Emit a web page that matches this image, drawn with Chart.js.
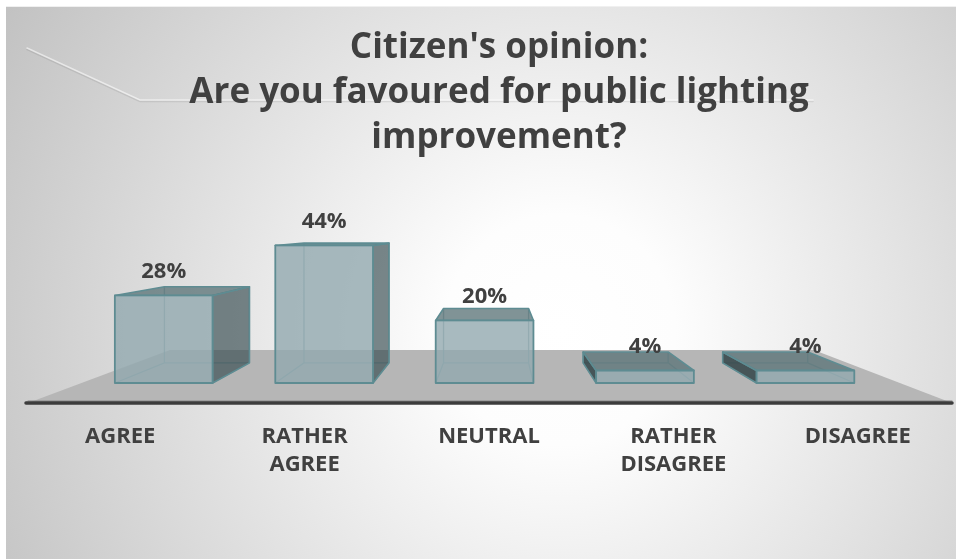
<!DOCTYPE html>
<html>
<head>
<meta charset="utf-8">
<script src="https://cdn.jsdelivr.net/npm/chart.js@4/dist/chart.umd.min.js"></script>
<style>
  html, body { margin: 0; padding: 0; background: #ffffff; }
  #wrap { width: 956px; height: 559px; position: relative; }
</style>
</head>
<body>
<div id="wrap"><canvas id="c"></canvas></div>
<script>
// Survey answers (category axis, multi-line tick labels)
const categories = [
  ['AGREE'],
  ['RATHER', 'AGREE'],
  ['NEUTRAL'],
  ['RATHER', 'DISAGREE'],
  ['DISAGREE']
];
// Share of respondents, in percent
const shares = [28, 44, 20, 4, 4];
// Value axis range
const valueMin = 0;
const valueMax = 71;

const TEXT = '#404040';
const FONT = "'Open Sans', 'DejaVu Sans', sans-serif";

// Perspective setup for the pseudo-3D boxes
const VP = { x: 496, y: 228 };     // vanishing point
const DEPTH = 0.87;                // back face scale relative to front face
const FRONT_SHIFT = { x: 455, k: 0.87 }; // category pixel -> front face centre

function proj(p, s) {
  return [VP.x + s * (p[0] - VP.x), VP.y + s * (p[1] - VP.y)];
}

function poly(ctx, pts) {
  ctx.beginPath();
  ctx.moveTo(pts[0][0], pts[0][1]);
  for (let i = 1; i < pts.length; i++) ctx.lineTo(pts[i][0], pts[i][1]);
  ctx.closePath();
}

const backdrop = {
  id: 'backdrop',
  beforeDraw(chart) {
    const ctx = chart.ctx;
    const W = chart.width, H = chart.height;
    ctx.save();
    ctx.fillStyle = '#ffffff';
    ctx.fillRect(0, 0, W, H);
    const g = ctx.createRadialGradient(560, 330, 0, 560, 330, 640);
    g.addColorStop(0, '#ffffff');
    g.addColorStop(0.18, '#fdfdfd');
    g.addColorStop(1, '#c2c2c2');
    ctx.fillStyle = g;
    ctx.fillRect(6, 7, W - 6, H - 7);
    ctx.fillStyle = 'rgba(0,0,0,0.06)';
    ctx.fillRect(6, 6, W - 6, 1);
    // faint decorative swoosh behind the title
    ctx.lineCap = 'round';
    ctx.lineJoin = 'round';
    ctx.beginPath();
    ctx.moveTo(27, 49.5); ctx.lineTo(140, 101.5); ctx.lineTo(813, 101.5);
    ctx.strokeStyle = 'rgba(0,0,0,0.08)';
    ctx.lineWidth = 1.5;
    ctx.stroke();
    ctx.beginPath();
    ctx.moveTo(27, 48); ctx.lineTo(140, 100); ctx.lineTo(813, 100);
    ctx.strokeStyle = 'rgba(255,255,255,0.55)';
    ctx.lineWidth = 1.5;
    ctx.stroke();
    ctx.restore();
  }
};

const titleNudge = {
  id: 'titleNudge',
  afterLayout(chart) {
    if (chart.titleBlock) chart.titleBlock.left += 20;
  }
};

const floor = {
  id: 'floor',
  beforeDatasetsDraw(chart) {
    const ctx = chart.ctx;
    const a = chart.chartArea;
    // floor front edge sits in front of the boxes
    const frontY = VP.y + (a.bottom - VP.y) / 0.886;
    const fl = [a.left, frontY], fr = [a.right + 2, frontY];
    const s = 0.697;
    const bl = proj(fl, s), br = proj(fr, s);
    ctx.save();
    ctx.fillStyle = '#b6b6b6';
    poly(ctx, [fl, fr, br, bl]);
    ctx.fill();
    ctx.lineCap = 'round';
    ctx.beginPath();
    ctx.moveTo(fl[0], frontY - 2); ctx.lineTo(fr[0], frontY - 2);
    ctx.strokeStyle = '#8c8c8c';
    ctx.lineWidth = 1;
    ctx.stroke();
    ctx.beginPath();
    ctx.moveTo(fl[0] - 2, frontY); ctx.lineTo(fr[0], frontY);
    ctx.strokeStyle = '#3c3c3c';
    ctx.lineWidth = 3.5;
    ctx.stroke();
    ctx.restore();
  }
};

const boxes = {
  id: 'boxes',
  afterDatasetsDraw(chart) {
    const ctx = chart.ctx;
    const meta = chart.getDatasetMeta(0);
    const data = chart.data.datasets[0].data;
    ctx.save();
    meta.data.forEach((el, i) => {
      const cx = FRONT_SHIFT.x + FRONT_SHIFT.k * (el.x - FRONT_SHIFT.x);
      const hw = el.width / 2;
      const l = cx - hw, r = cx + hw, t = el.y, b = el.base;
      const FTL = [l, t], FTR = [r, t], FBL = [l, b], FBR = [r, b];
      const BTL = proj(FTL, DEPTH), BTR = proj(FTR, DEPTH);
      const BBL = proj(FBL, DEPTH), BBR = proj(FBR, DEPTH);

      // edges hidden behind the translucent front
      ctx.lineWidth = 1.3;
      ctx.strokeStyle = 'rgba(110,150,156,0.7)';
      ctx.beginPath();
      ctx.moveTo(BBL[0], BBL[1]); ctx.lineTo(BBR[0], BBR[1]);
      ctx.moveTo(FBL[0], FBL[1]); ctx.lineTo(BBL[0], BBL[1]);
      ctx.moveTo(FBR[0], FBR[1]); ctx.lineTo(BBR[0], BBR[1]);
      ctx.moveTo(BTL[0], BTL[1]); ctx.lineTo(BBL[0], BBL[1]);
      ctx.moveTo(BTR[0], BTR[1]); ctx.lineTo(BBR[0], BBR[1]);
      ctx.stroke();

      const edge = '#5e8c92';
      ctx.lineJoin = 'round';
      // side faces
      if (r < VP.x && BTR[0] > r + 0.5) {
        poly(ctx, [FTR, FBR, BBR, BTR]);
        ctx.fillStyle = 'rgba(53,74,79,0.66)';
        ctx.fill();
        ctx.strokeStyle = edge; ctx.lineWidth = 1.6; ctx.stroke();
      }
      if (l > VP.x && BTL[0] < l - 0.5) {
        poly(ctx, [FTL, FBL, BBL, BTL]);
        ctx.fillStyle = 'rgba(50,68,72,0.85)';
        ctx.fill();
        ctx.strokeStyle = edge; ctx.lineWidth = 1.6; ctx.stroke();
      }
      // top face
      poly(ctx, [FTL, FTR, BTR, BTL]);
      ctx.fillStyle = 'rgba(92,116,121,0.78)';
      ctx.fill();
      ctx.strokeStyle = edge; ctx.lineWidth = 1.6; ctx.stroke();
      // front face
      poly(ctx, [FTL, FTR, FBR, FBL]);
      ctx.fillStyle = 'rgba(146,169,175,0.80)';
      ctx.fill();
      ctx.strokeStyle = edge; ctx.lineWidth = 1.8; ctx.stroke();

      // value label
      ctx.fillStyle = TEXT;
      ctx.font = "bold 22px " + FONT;
      ctx.textAlign = 'center';
      ctx.textBaseline = 'alphabetic';
      ctx.fillText(data[i] + '%', cx, t - 17);
    });
    ctx.restore();
  }
};

new Chart(document.getElementById('c'), {
  type: 'bar',
  data: {
    labels: categories,
    datasets: [{
      data: shares,
      backgroundColor: 'rgba(0,0,0,0)',
      borderWidth: 0,
      barPercentage: 0.53,
      categoryPercentage: 1
    }]
  },
  options: {
    responsive: true,
    maintainAspectRatio: false,
    animation: false,
    layout: { padding: { left: 28, right: 6, top: 0, bottom: 0 } },
    plugins: {
      legend: { display: false },
      tooltip: { enabled: false },
      title: {
        display: true,
        text: ["Citizen's opinion:", 'Are you favoured for public lighting', 'improvement?'],
        color: TEXT,
        font: { family: FONT, size: 35, weight: 'bold', lineHeight: '45px' },
        padding: { top: 26, bottom: 0 }
      }
    },
    scales: {
      x: {
        grid: { display: false, drawTicks: false },
        border: { display: false },
        ticks: {
          color: TEXT,
          padding: 40,
          maxRotation: 0,
          autoSkip: false,
          font: { family: FONT, size: 22, weight: 'bold', lineHeight: '28px' }
        },
        afterFit(scale) { scale.height = 176; }
      },
      y: {
        display: false,
        min: valueMin,
        max: valueMax
      }
    }
  },
  plugins: [backdrop, titleNudge, floor, boxes]
});
</script>
</body>
</html>
